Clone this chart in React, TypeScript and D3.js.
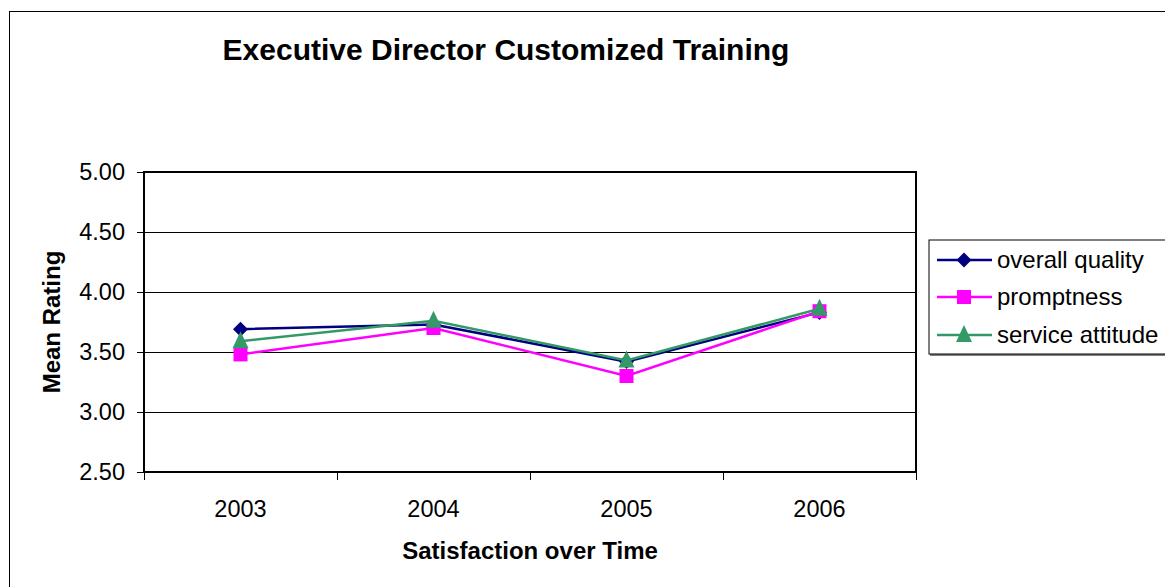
import React from "react";
import * as d3 from "d3";

const years = ["2003", "2004", "2005", "2006"];
const overallQuality = [3.69, 3.73, 3.42, 3.83];
const promptness = [3.48, 3.70, 3.30, 3.84];
const serviceAttitude = [3.59, 3.76, 3.43, 3.86];
const yTicks = [2.5, 3.0, 3.5, 4.0, 4.5, 5.0];
const seriesNames = ["overall quality", "promptness", "service attitude"];

const W = 1165;
const H = 587;
const plot = { left: 144, right: 916, top: 172, bottom: 472 };
const FONT = "Liberation Sans, Arial, sans-serif";

export default function App() {
  const x = d3.scaleBand<string>().domain(years).range([plot.left, plot.right]).padding(0);
  const y = d3.scaleLinear().domain([2.5, 5]).range([plot.bottom, plot.top]);
  const cx = (yr: string) => (x(yr) as number) + x.bandwidth() / 2;

  const series = [
    { name: seriesNames[0], values: overallQuality, color: "#000080", marker: "diamond" },
    { name: seriesNames[1], values: promptness, color: "#FF00FF", marker: "square" },
    { name: seriesNames[2], values: serviceAttitude, color: "#339966", marker: "triangle" },
  ];

  const line = d3
    .line<number>()
    .x((_, i) => cx(years[i]))
    .y((v) => y(v));

  const marker = (type: string, px: number, py: number, color: string, key: string) => {
    if (type === "diamond") {
      const s = 7.5;
      return (
        <path key={key} d={`M${px},${py - s}L${px + s},${py}L${px},${py + s}L${px - s},${py}Z`} fill={color} />
      );
    }
    if (type === "square") {
      const s = 7;
      return <rect key={key} x={px - s} y={py - s} width={2 * s} height={2 * s} fill={color} />;
    }
    const s = 8;
    return (
      <path key={key} d={`M${px},${py - s - 2}L${px + s},${py + s - 1}L${px - s},${py + s - 1}Z`} fill={color} />
    );
  };

  const boundaries = [plot.left, ...years.map((yr) => (x(yr) as number) + x.bandwidth())];

  const legend = { left: 929, top: 240, bottom: 354, rows: [260, 297, 335] };

  return (
    <svg
      width={W}
      height={H}
      style={{ position: "absolute", left: 0, top: 0, background: "#fff" }}
      fontFamily={FONT}
    >
      <rect x={0} y={0} width={W} height={H} fill="#fff" />
      <rect x={9.5} y={11.5} width={W + 20} height={H + 20} fill="none" stroke="#000" strokeWidth={1} />

      <text x={506} y={60} textAnchor="middle" fontSize={30} fontWeight="bold" fill="#000">
        Executive Director Customized Training
      </text>

      {yTicks.map((t) => (
        <g key={t}>
          <line x1={plot.left} x2={plot.right} y1={y(t) + 0.5} y2={y(t) + 0.5} stroke="#000" strokeWidth={1} />
          <line x1={plot.left - 7} x2={plot.left} y1={y(t) + 0.5} y2={y(t) + 0.5} stroke="#000" strokeWidth={1} />
          <text x={125} y={y(t)} dy="0.35em" textAnchor="end" fontSize={23.5} fill="#000">
            {t.toFixed(2)}
          </text>
        </g>
      ))}

      <rect
        x={plot.left}
        y={plot.top}
        width={plot.right - plot.left}
        height={plot.bottom - plot.top}
        fill="none"
        stroke="#000"
        strokeWidth={2}
      />

      {boundaries.map((b, i) => (
        <line key={i} x1={b + 0.5} x2={b + 0.5} y1={plot.bottom} y2={plot.bottom + 8} stroke="#000" strokeWidth={1} />
      ))}
      {years.map((yr) => (
        <text key={yr} x={cx(yr)} y={517} textAnchor="middle" fontSize={23.5} fill="#000">
          {yr}
        </text>
      ))}

      <text x={530} y={559} textAnchor="middle" fontSize={24} fontWeight="bold" fill="#000">
        Satisfaction over Time
      </text>
      <text
        transform={`translate(60,${(plot.top + plot.bottom) / 2}) rotate(-90)`}
        textAnchor="middle"
        fontSize={24}
        fontWeight="bold"
        fill="#000"
      >
        Mean Rating
      </text>

      {series.map((s) => (
        <g key={s.name}>
          <path d={line(s.values) as string} fill="none" stroke={s.color} strokeWidth={2.5} />
          {s.values.map((v, i) => marker(s.marker, cx(years[i]), y(v), s.color, s.name + i))}
        </g>
      ))}

      <rect x={legend.left + 1} y={legend.top + 2} width={300} height={legend.bottom - legend.top} fill="#808080" />
      <rect
        x={legend.left}
        y={legend.top}
        width={300}
        height={legend.bottom - legend.top}
        fill="#fff"
        stroke="#000"
        strokeWidth={1}
      />
      {series.map((s, i) => (
        <g key={s.name}>
          <line x1={937} x2={992} y1={legend.rows[i]} y2={legend.rows[i]} stroke={s.color} strokeWidth={2.5} />
          {marker(s.marker, 964, legend.rows[i], s.color, "lg" + i)}
          <text x={997} y={legend.rows[i]} dy="0.35em" fontSize={24} fill="#000">
            {s.name}
          </text>
        </g>
      ))}
    </svg>
  );
}
